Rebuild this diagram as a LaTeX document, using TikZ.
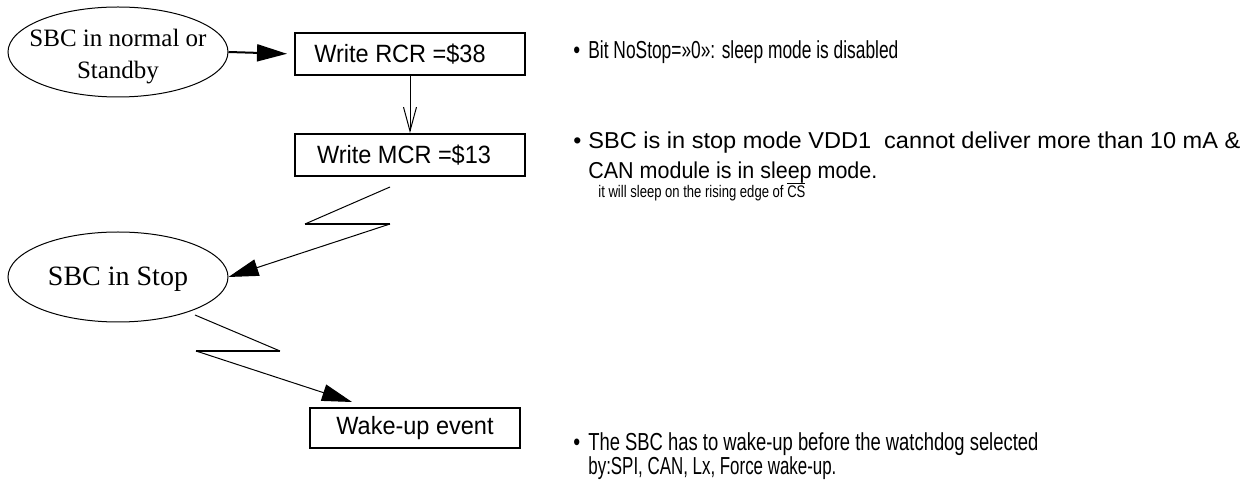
\documentclass[tikz,border=0pt]{standalone}
\usepackage{fontspec}
\usepackage{graphicx}
\setmainfont{Liberation Sans}
\newfontfamily\serifo{Liberation Serif}
\newfontfamily\narrow[FakeStretch=0.8]{Liberation Sans}
\newfontfamily\boxfont[FakeStretch=0.94]{Liberation Sans}
\usetikzlibrary{arrows.meta,shapes.geometric}
\begin{document}
\begin{tikzpicture}[x=0.5pt,y=-0.5pt,
  boxn/.style={draw,line width=1pt,minimum width=115pt,minimum height=21pt,inner sep=0pt,font=\boxfont\fontsize{12.5}{14}\selectfont},
  ell/.style={draw,ellipse,line width=0.5pt,minimum width=110pt,minimum height=45pt,inner sep=0pt},
  etext/.style={inner sep=0pt,align=center},
  conn/.style={line width=0.5pt},
  zig/.style={line width=1pt},
  bighead/.style={-{Triangle[length=15pt,width=8.5pt]}},
  openhead/.style={-{Straight Barb[length=12pt,width=6.5pt,line width=0.5pt]}},
  txt/.style={anchor=base west,inner sep=0pt,font=\narrow\fontsize{12.3}{14}\selectfont},
  wtxt/.style={anchor=base west,inner sep=0pt,font=\fontsize{11.5}{14}\selectfont},
  small/.style={anchor=base west,inner sep=0pt,font=\narrow\fontsize{8.4}{9}\selectfont},
  ]
\useasboundingbox (0,0) rectangle (1250,480);
% nodes
\node[ell] (e1) at (118,52) {};
\node[etext,font=\serifo\fontsize{12.5}{16}\selectfont,yshift=-2.5pt] (e1t) at (e1) {SBC in normal or\\Standby};
\node[boxn] (b1) at (410,54) {Write RCR =\$38\hspace*{10pt}};
\node[boxn] (b2) at (410,155) {Write MCR =\$13\hspace*{6pt}};
\node[ell] (e2) at (118,277) {};
\node[etext,font=\serifo\fontsize{14}{16}\selectfont,yshift=-1pt] (e2t) at (e2) {SBC in Stop};
\node[boxn,minimum width=105pt,minimum height=20pt] (b3) at (415,428) {Wake-up event};
% connectors
\draw[conn,line width=1pt,bighead,shorten >=3.5pt] (e1.east) -- (b1.west);
\draw[conn,openhead] (b1.south) -- (b2.north);
\coordinate (z1a) at (390,187);
\coordinate (z1b) at (305,224);
\coordinate (z1c) at (390,224);
\draw[conn] (z1a) -- (z1b);
\draw[zig] (z1b) -- (z1c);
\draw[conn,bighead] (z1c) -- (e2.east);
\coordinate (z2a) at (195,315);
\coordinate (z2b) at (280,351);
\coordinate (z2c) at (196,351);
\draw[conn] (z2a) -- (z2b);
\draw[zig] (z2b) -- (z2c);
\draw[conn,bighead] (z2c) -- (352,402) coordinate (z2d);
% texts
\node[txt] (t1b) at (573,59) {\textbullet};
\node[txt] (t1) at (588,59) {\resizebox{155pt}{\height}{Bit NoStop=»0»: sleep mode is disabled}};
\node[wtxt] (t2b) at (573,149) {\textbullet};
\node[wtxt] (t2) at (588,149) {\resizebox{326pt}{\height}{SBC is in stop mode VDD1 \ cannot deliver more than 10 mA \&}};
\node[wtxt] (t3) at (588,179) {\resizebox{144.5pt}{\height}{CAN module is in sleep mode.}};
\node[small] (t4) at (598,198) {\resizebox{103.5pt}{\height}{it will sleep on the rising edge of $\overline{\hbox{\narrow\fontsize{8.4}{9}\selectfont CS}}$}};
\node[txt] (t5b) at (573,451) {\textbullet};
\node[txt] (t5) at (588,451) {\resizebox{225pt}{\height}{The SBC has to wake-up before the watchdog selected}};
\node[txt] (t6) at (588,475) {\resizebox{124pt}{\height}{by:SPI, CAN, Lx, Force wake-up.}};
\end{tikzpicture}
\end{document}
